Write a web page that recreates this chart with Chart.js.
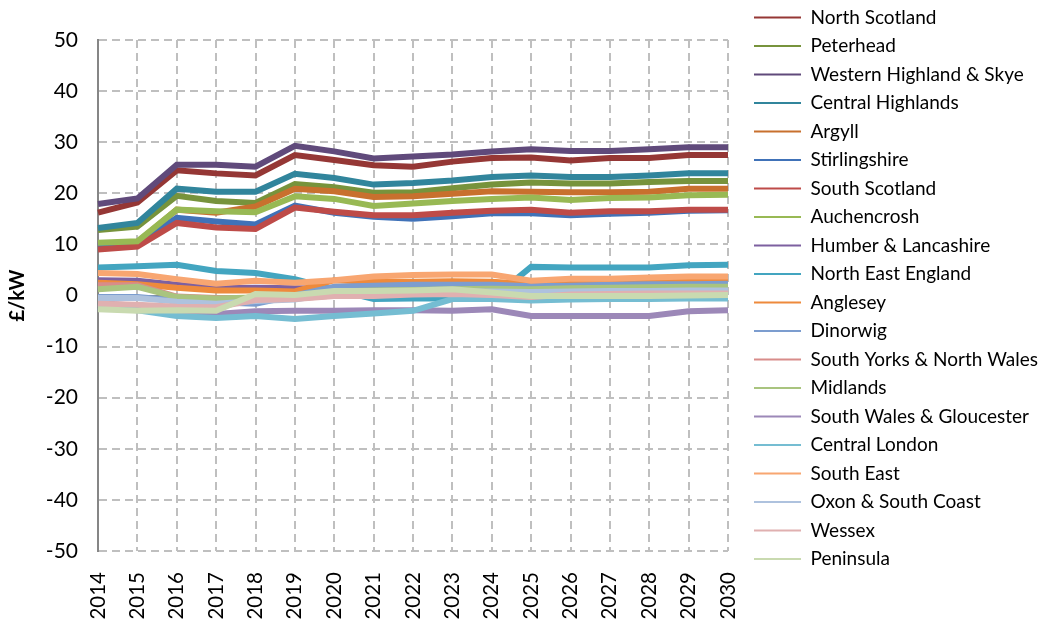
<!DOCTYPE html>
<html>
<head>
<meta charset="utf-8">
<script src="https://cdn.jsdelivr.net/npm/chart.js@4.4.1/dist/chart.umd.min.js"></script>
<style>
  body { margin: 0; background: #fff; }
</style>
</head>
<body>
<canvas id="myChart" width="1045" height="627"></canvas>
<script>
const years = ["2014", "2015", "2016", "2017", "2018", "2019", "2020", "2021", "2022",
  "2023", "2024", "2025", "2026", "2027", "2028", "2029", "2030"];

const northScotland = [16.2, 18.2, 24.5, 23.9, 23.5, 27.5, 26.5, 25.5, 25.2, 26.2, 26.9, 27.0, 26.4, 26.9, 26.9, 27.5, 27.5];
const peterhead = [12.8, 13.5, 19.5, 18.5, 18.1, 21.8, 21.2, 20.1, 20.2, 21.0, 21.7, 22.1, 21.9, 21.9, 22.2, 22.4, 22.4];
const westernHighland = [17.9, 19.0, 25.6, 25.6, 25.2, 29.3, 28.2, 26.8, 27.2, 27.6, 28.2, 28.6, 28.3, 28.3, 28.6, 29.0, 29.0];
const centralHighlands = [13.2, 14.2, 20.9, 20.3, 20.3, 23.8, 23.0, 21.7, 22.0, 22.5, 23.2, 23.5, 23.2, 23.2, 23.5, 23.9, 23.9];
const argyll = [10.0, 10.4, 16.8, 16.2, 17.4, 20.9, 20.4, 19.3, 19.4, 19.9, 20.4, 20.3, 20.2, 20.2, 20.3, 20.9, 20.9];
const stirlingshire = [9.6, 10.0, 15.2, 14.5, 13.9, 17.6, 16.2, 15.4, 15.0, 15.5, 16.1, 16.1, 15.7, 16.0, 16.2, 16.6, 16.7];
const southScotland = [9.0, 9.6, 14.2, 13.3, 13.0, 17.2, 16.4, 15.7, 15.7, 16.2, 16.6, 16.8, 16.2, 16.5, 16.5, 16.8, 16.8];
const auchencrosh = [10.3, 10.6, 16.8, 16.5, 16.3, 19.4, 18.9, 17.5, 18.0, 18.5, 18.9, 19.2, 18.7, 19.1, 19.2, 19.6, 19.7];
const humberLancashire = [3.0, 2.9, 2.1, 1.4, 1.5, 1.4, 1.3, 1.5, 1.6, 1.7, 1.8, 1.8, 2.0, 2.5, 2.8, 2.9, 3.0];
const northEastEngland = [5.5, 5.7, 6.0, 4.8, 4.4, 3.2, 1.2, -0.7, -0.6, -0.6, -0.7, 5.6, 5.5, 5.5, 5.5, 5.9, 6.0];
const anglesey = [2.5, 2.2, 1.5, 1.0, 1.0, 0.8, 3.0, 2.7, 2.7, 2.8, 2.7, 2.2, 2.4, 2.6, 2.7, 2.7, 2.7];
const dinorwig = [-0.3, -0.3, -1.0, -1.3, -1.6, 0.0, 1.7, 1.9, 2.1, 2.1, 2.1, 1.8, 1.9, 2.1, 2.2, 2.2, 2.3];
const southYorks = [2.0, 2.0, -0.2, -0.5, -0.5, -0.6, 0.0, 0.5, 0.6, 0.7, 0.8, 0.8, 0.8, 0.9, 1.0, 1.1, 1.2];
const midlands = [1.2, 1.7, -0.3, -0.6, -0.4, -0.3, 0.8, 1.0, 1.1, 1.2, 1.3, 1.2, 1.4, 1.5, 1.6, 1.7, 1.7];
const southWales = [-1.5, -2.0, -3.3, -3.6, -3.1, -3.0, -3.0, -2.9, -2.9, -3.0, -2.7, -4.0, -4.0, -4.0, -4.0, -3.1, -2.9];
const centralLondon = [-2.3, -2.9, -4.0, -4.4, -4.0, -4.6, -4.0, -3.5, -3.0, -0.7, -0.7, -1.0, -0.8, -0.7, -0.7, -0.6, -0.6];
const southEast = [4.4, 4.2, 3.2, 2.3, 2.9, 2.5, 3.0, 3.7, 4.0, 4.1, 4.1, 2.9, 3.3, 3.3, 3.5, 3.7, 3.7];
const oxonSouthCoast = [-0.5, -0.5, -1.2, -1.6, -1.1, -0.8, 0.5, 0.6, 0.7, 0.8, 0.8, 0.7, 0.8, 0.9, 0.9, 1.0, 1.0];
const wessex = [-1.6, -1.8, -2.2, -2.3, -0.9, -0.7, -0.1, -0.1, 0.2, 0.3, 0.1, -0.3, 0.2, 0.3, 0.4, 0.4, 0.4];
const peninsula = [-2.7, -3.0, -2.9, -3.0, 0.3, 0.1, 0.9, 0.9, 1.0, 1.2, 0.6, -0.1, -0.1, -0.1, -0.1, 0.0, 0.1];

const yTicks = [50, 40, 30, 20, 10, 0, -10, -20, -30, -40, -50];

const series = [
  ["North Scotland", northScotland, "#953735"],
  ["Peterhead", peterhead, "#77933C"],
  ["Western Highland & Skye", westernHighland, "#604A7B"],
  ["Central Highlands", centralHighlands, "#31859C"],
  ["Argyll", argyll, "#C8702E"],
  ["Stirlingshire", stirlingshire, "#4072B8"],
  ["South Scotland", southScotland, "#BE4B48"],
  ["Auchencrosh", auchencrosh, "#98B954"],
  ["Humber & Lancashire", humberLancashire, "#7D60A0"],
  ["North East England", northEastEngland, "#43A5C0"],
  ["Anglesey", anglesey, "#EE8A3C"],
  ["Dinorwig", dinorwig, "#7C9DCF"],
  ["South Yorks & North Wales", southYorks, "#D88C8A"],
  ["Midlands", midlands, "#A9C47F"],
  ["South Wales & Gloucester", southWales, "#9C88B8"],
  ["Central London", centralLondon, "#75BDD2"],
  ["South East", southEast, "#F8A671"],
  ["Oxon & South Coast", oxonSouthCoast, "#AEC2DE"],
  ["Wessex", wessex, "#E0B0B0"],
  ["Peninsula", peninsula, "#C9DAB0"],
];

const FONT = "Lato, 'Open Sans', sans-serif";

// legend sits right of the plot, fixed width, pushed a bit right/up
const legendPlace = {
  id: "legendPlace",
  beforeLayout(chart) {
    const legend = chart.legend;
    if (legend && !legend._patched) {
      const origFit = legend.fit;
      legend.fit = function () {
        origFit.call(this);
        this.width = 317;
      };
      legend._patched = true;
    }
  },
  afterLayout(chart) {
    const legend = chart.legend;
    legend.left = 744.5;
    legend.right = legend.left + 317;
    legend.top = -1.5;
  },
};

const datasets = series.map((s, i) => {
  return {
    label: s[0],
    data: s[1],
    borderColor: s[2],
    backgroundColor: s[2],
    borderWidth: 6,
    pointRadius: 0,
    pointHoverRadius: 0,
    tension: 0,
    fill: false,
    order: -i,
  };
});

const config = {
  type: "line",
  data: {
    labels: years,
    datasets: datasets,
  },
  plugins: [legendPlace],
  options: {
    responsive: false,
    animation: false,
    layout: {
      padding: { top: 40, left: 0, right: 0, bottom: 0 },
    },
    plugins: {
      tooltip: { enabled: false },
      legend: {
        position: "right",
        align: "start",
        labels: {
          boxWidth: 47,
          boxHeight: 2,
          padding: 9.5,
          color: "#000",
          font: { family: FONT, size: 19 },
          sort: (a, b) => a.datasetIndex - b.datasetIndex,
          generateLabels: (chart) => {
            return chart.data.datasets.map((ds, i) => {
              return {
                text: ds.label,
                fillStyle: ds.borderColor,
                strokeStyle: ds.borderColor,
                lineWidth: 0,
                hidden: false,
                datasetIndex: i,
              };
            });
          },
        },
      },
    },
    scales: {
      x: {
        offset: false,
        afterFit: (axis) => {
          axis.height = 76;
        },
        grid: {
          color: "#BFBFBF",
          lineWidth: 2,
          drawTicks: false,
        },
        border: { display: false, dash: [8, 5] },
        ticks: {
          autoSkip: false,
          minRotation: 90,
          maxRotation: 90,
          padding: 21,
          color: "#000",
          font: { family: FONT, size: 20.5 },
        },
      },
      y: {
        min: -50,
        max: 50,
        afterFit: (axis) => {
          axis.width = 98;
        },
        afterBuildTicks: (axis) => {
          axis.ticks = yTicks.map((v) => ({ value: v }));
        },
        grid: {
          color: (ctx) => (ctx.tick && ctx.tick.value === 0 ? "#868686" : "#BFBFBF"),
          lineWidth: 2,
          drawTicks: false,
        },
        border: {
          display: true,
          color: "#868686",
          width: 2,
          dash: (ctx) => (ctx.type === "tick" && ctx.tick.value !== 0 ? [8, 5] : []),
        },
        ticks: {
          padding: 20,
          color: "#000",
          font: { family: FONT, size: 21 },
        },
        title: {
          display: true,
          text: "£/kW",
          color: "#000",
          padding: { top: 6, bottom: 0 },
          font: { family: FONT, size: 20, weight: "bold" },
        },
      },
    },
  },
};

const myChart = new Chart(document.getElementById("myChart"), config);
</script>
</body>
</html>
